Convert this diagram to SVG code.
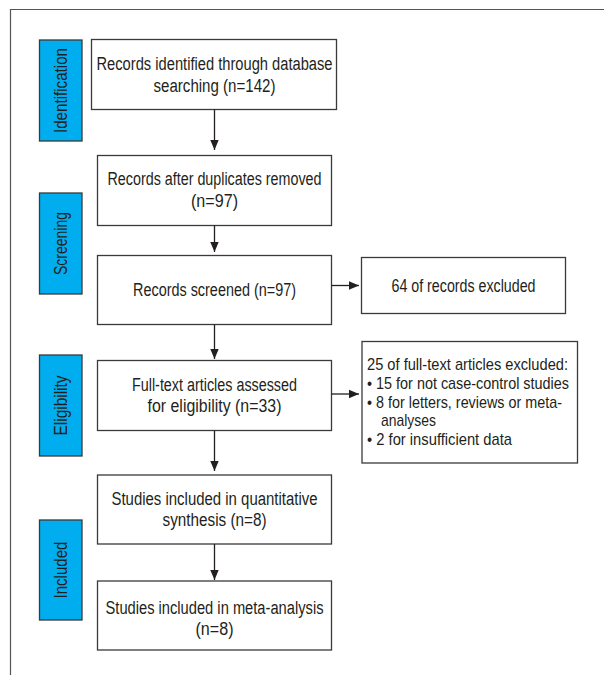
<svg xmlns="http://www.w3.org/2000/svg" width="604" height="675" viewBox="0 0 604 675">
<defs>
<style>
.box{fill:#fff;stroke:#3a3a3a;stroke-width:1.3}
.stage{fill:#00aeef;stroke:#3a3a3a;stroke-width:1.3}
.t{font-family:"Liberation Sans",Arial,sans-serif;font-size:18px;fill:#231f20}
.s{font-size:17px}
.c{text-anchor:middle}
.lbl{font-family:"Liberation Sans",Arial,sans-serif;font-size:17.5px;fill:#231f20;text-anchor:middle}
.ln{stroke:#231f20;stroke-width:1.3;fill:none}
.frame{stroke:#555;stroke-width:1.2;fill:none}
</style>
<marker id="ah" markerUnits="userSpaceOnUse" markerWidth="12" markerHeight="10" refX="10" refY="5" orient="auto">
<path d="M0,0.8 L10,5 L0,9.2 Z" fill="#231f20"/>
</marker>
</defs>
<rect width="604" height="675" fill="#fff"/>
<path class="frame" d="M10.5,675 V9.5 H604"/>

<g id="stage-identification">
<rect class="stage" x="39.5" y="40" width="42.5" height="101"/>
<text class="lbl" transform="translate(66.5,90.5) rotate(-90)" textLength="85" lengthAdjust="spacingAndGlyphs">Identification</text>
</g>
<g id="stage-screening">
<rect class="stage" x="39.5" y="193" width="42.5" height="101"/>
<text class="lbl" transform="translate(66.5,243.5) rotate(-90)" textLength="63" lengthAdjust="spacingAndGlyphs">Screening</text>
</g>
<g id="stage-eligibility">
<rect class="stage" x="39.5" y="355" width="42.5" height="101"/>
<text class="lbl" transform="translate(66.5,405.5) rotate(-90)" textLength="60" lengthAdjust="spacingAndGlyphs">Eligibility</text>
</g>
<g id="stage-included">
<rect class="stage" x="39.5" y="520" width="42.5" height="100"/>
<text class="lbl" transform="translate(66.5,570) rotate(-90)" textLength="57" lengthAdjust="spacingAndGlyphs">Included</text>
</g>

<g id="identified">
<rect class="box" x="91.5" y="39.5" width="245" height="70"/>
<text class="t c" x="214.5" y="69.5" textLength="236" lengthAdjust="spacingAndGlyphs">Records identified through database</text>
<text class="t c" x="214.5" y="91.5" textLength="122" lengthAdjust="spacingAndGlyphs">searching (n=142)</text>
</g>
<g id="deduplicated">
<rect class="box" x="97.5" y="155.5" width="234" height="70"/>
<text class="t c" x="214.5" y="185" textLength="214" lengthAdjust="spacingAndGlyphs">Records after duplicates removed</text>
<text class="t c" x="214.5" y="207" textLength="47" lengthAdjust="spacingAndGlyphs">(n=97)</text>
</g>
<g id="screened">
<rect class="box" x="97.5" y="255.5" width="234" height="69"/>
<text class="t c" x="214.5" y="295.5" textLength="163" lengthAdjust="spacingAndGlyphs">Records screened (n=97)</text>
</g>
<g id="excluded-records">
<rect class="box" x="361.5" y="257.5" width="204" height="56"/>
<text class="t c" x="463.5" y="291.5" textLength="144" lengthAdjust="spacingAndGlyphs">64 of records excluded</text>
</g>
<g id="fulltext">
<rect class="box" x="97.5" y="360.5" width="234" height="70"/>
<text class="t c" x="214.5" y="390.5" textLength="165" lengthAdjust="spacingAndGlyphs">Full-text articles assessed</text>
<text class="t c" x="214.5" y="411.5" textLength="134" lengthAdjust="spacingAndGlyphs">for eligibility (n=33)</text>
</g>
<g id="excluded-fulltext">
<rect class="box" x="362" y="341.5" width="215.5" height="121.5"/>
<text class="t s" x="367" y="370" textLength="201" lengthAdjust="spacingAndGlyphs">25 of full-text articles excluded:</text>
<text class="t s" x="367" y="389" textLength="202" lengthAdjust="spacingAndGlyphs">• 15 for not case-control studies</text>
<text class="t s" x="367" y="407.5" textLength="195" lengthAdjust="spacingAndGlyphs">• 8 for letters, reviews or meta-</text>
<text class="t s" x="381" y="426" textLength="55" lengthAdjust="spacingAndGlyphs">analyses</text>
<text class="t s" x="367" y="444.5" textLength="145" lengthAdjust="spacingAndGlyphs">• 2 for insufficient data</text>
</g>
<g id="quantitative">
<rect class="box" x="97.5" y="475" width="234" height="69"/>
<text class="t c" x="214.5" y="505" textLength="206" lengthAdjust="spacingAndGlyphs">Studies included in quantitative</text>
<text class="t c" x="214.5" y="526" textLength="104" lengthAdjust="spacingAndGlyphs">synthesis (n=8)</text>
</g>
<g id="meta">
<rect class="box" x="97.5" y="581" width="234" height="69"/>
<text class="t c" x="214.5" y="613.5" textLength="218" lengthAdjust="spacingAndGlyphs">Studies included in meta-analysis</text>
<text class="t c" x="214.5" y="634.5" textLength="38" lengthAdjust="spacingAndGlyphs">(n=8)</text>
</g>

<g id="connectors">
<line class="ln" x1="214.5" y1="109.5" x2="214.5" y2="150" marker-end="url(#ah)"/>
<line class="ln" x1="214.5" y1="225.5" x2="214.5" y2="252" marker-end="url(#ah)"/>
<line class="ln" x1="214.5" y1="324.5" x2="214.5" y2="359" marker-end="url(#ah)"/>
<line class="ln" x1="214.5" y1="430.5" x2="214.5" y2="471" marker-end="url(#ah)"/>
<line class="ln" x1="214.5" y1="544" x2="214.5" y2="580" marker-end="url(#ah)"/>
<line class="ln" x1="331.5" y1="285.5" x2="359" y2="285.5" marker-end="url(#ah)"/>
<line class="ln" x1="331.5" y1="394" x2="359" y2="394" marker-end="url(#ah)"/>
</g>
</svg>
